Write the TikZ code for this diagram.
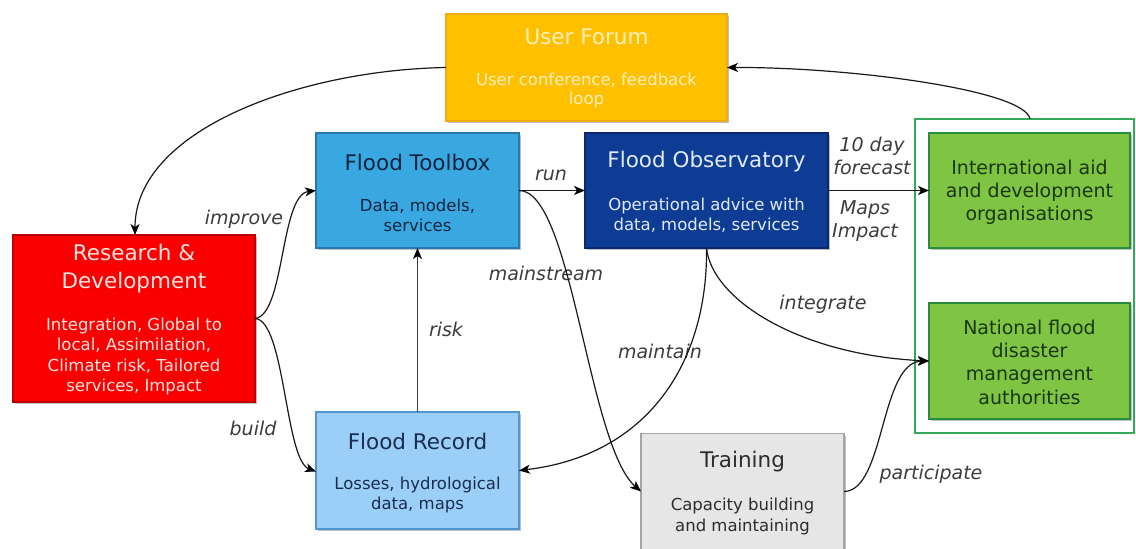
\documentclass[tikz,border=0pt]{standalone}
\usepackage{fontspec}
\setmainfont{DejaVu Sans}
\usetikzlibrary{arrows.meta,shadows}
\definecolor{forumC}{RGB}{255,192,0}
\definecolor{forumB}{RGB}{240,170,20}
\definecolor{forumT}{RGB}{255,240,190}
\definecolor{toolC}{RGB}{58,168,224}
\definecolor{toolB}{RGB}{40,120,180}
\definecolor{toolT}{RGB}{15,36,64}
\definecolor{obsC}{RGB}{14,60,148}
\definecolor{obsB}{RGB}{10,40,110}
\definecolor{obsT}{RGB}{225,235,255}
\definecolor{rdC}{RGB}{250,0,0}
\definecolor{rdB}{RGB}{190,0,0}
\definecolor{rdT}{RGB}{255,228,225}
\definecolor{recC}{RGB}{155,207,247}
\definecolor{recB}{RGB}{80,150,210}
\definecolor{recT}{RGB}{25,45,80}
\definecolor{trC}{RGB}{230,230,230}
\definecolor{trB}{RGB}{165,165,165}
\definecolor{trT}{RGB}{45,45,45}
\definecolor{grC}{RGB}{128,196,68}
\definecolor{grB}{RGB}{40,140,60}
\definecolor{grT}{RGB}{25,55,15}
\definecolor{frameC}{RGB}{50,170,90}
\definecolor{lineC}{RGB}{25,25,25}
\definecolor{labC}{RGB}{60,60,60}
\begin{document}
\begin{tikzpicture}[x=1pt,y=-1pt,
  box/.style={draw, line width=1.3pt, inner sep=0pt, outer sep=0pt,
    drop shadow={shadow xshift=2pt, shadow yshift=-2pt, opacity=0.25, fill=black}},
  ttl/.style={font=\fontsize{21.5}{27}\selectfont, align=center, inner sep=0pt},
  sub/.style={font=\fontsize{16.5}{20.3}\selectfont, align=center, inner sep=0pt},
  grn/.style={font=\fontsize{19}{23}\selectfont, align=center, inner sep=0pt, text=grT},
  lab/.style={font=\fontsize{19}{23}\selectfont\itshape, align=center, inner sep=0pt, text=labC},
  arr/.style={draw=lineC, line width=1.2pt, -{Stealth[length=11pt,width=9pt,inset=3pt,color=black]}}
]
\useasboundingbox (0,0) rectangle (1136,549);

% green frame
\node[draw=frameC, line width=1.6pt, minimum width=219pt, minimum height=314pt, inner sep=0pt, outer sep=0pt] (grp) at (1024.5,276) {};

% boxes
\node[box, fill=forumC, draw=forumB, minimum width=281pt, minimum height=107pt] (forum) at (586.5,67.5) {};
\node[ttl, text=forumT] (forumT) at (586.5,37) {User Forum};
\node[sub, text=forumT, font=\fontsize{16.5}{19}\selectfont] (forumS) at (586.5,90.5) {User conference, feedback\\loop};

\node[box, fill=toolC, draw=toolB, minimum width=203pt, minimum height=115pt] (tool) at (417.5,190.5) {};
\node[ttl, text=toolT] (toolT) at (417.5,162) {Flood Toolbox};
\node[sub, text=toolT] (toolS) at (417.5,215) {Data, models,\\services};

\node[box, fill=obsC, draw=obsB, minimum width=243pt, minimum height=115pt] (obs) at (706.5,190.5) {};
\node[ttl, text=obsT] (obsT) at (706.5,162) {Flood Observatory};
\node[sub, text=obsT] (obsS) at (706.5,215) {Operational advice with\\data, models, services};

\node[box, fill=rdC, draw=rdB, minimum width=242pt, minimum height=167pt] (rd) at (134,318.5) {};
\node[ttl, text=rdT, font=\fontsize{21.5}{28}\selectfont] (rdT) at (134,269) {Research \&\\Development};
\node[sub, text=rdT] (rdS) at (134,356.5) {Integration, Global to\\local, Assimilation,\\Climate risk, Tailored\\services, Impact};

\node[box, fill=recC, draw=recB, minimum width=203pt, minimum height=117pt] (rec) at (417.5,470.5) {};
\node[ttl, text=recT] (recT) at (417.5,441) {Flood Record};
\node[sub, text=recT] (recS) at (417.5,495) {Losses, hydrological\\data, maps};

\node[box, fill=trC, draw=trB, minimum width=203pt, minimum height=116pt] (tr) at (742.5,491.5) {};
\node[ttl, text=trT] (trT) at (742.5,462) {Training};
\node[sub, text=trT] (trS) at (742.5,516.5) {Capacity building\\and maintaining};

\node[box, fill=grC, draw=grB, minimum width=201pt, minimum height=115pt] (intl) at (1029.5,190.5) {};
\node[grn] (intlT) at (1029.5,192.5) {International aid\\and development\\organisations};

\node[box, fill=grC, draw=grB, minimum width=201pt, minimum height=116pt] (natl) at (1029.5,361) {};
\node[grn, font=\fontsize{19}{23.3}\selectfont] (natlT) at (1029.5,362) {National flood\\disaster\\management\\authorities};

% labels
\node[lab] (lImprove) at (244,219) {improve};
\node[lab] (lBuild) at (253,428) {build};
\node[lab] (lRisk) at (446,329) {risk};
\node[lab] (lRun) at (551,175) {run};
\node[lab] (lMain) at (546,273) {mainstream};
\node[lab] (lMaint) at (660,351) {maintain};
\node[lab] (lInt) at (823,304) {integrate};
\node[lab] (lPart) at (931,474) {participate};
\node[lab] (lFc) at (872,155.5) {10 day\\forecast};
\node[lab] (lMaps) at (865,221) {Maps\\Impact};

% connectors
\draw[arr] (forum.west) .. controls (300,70) and (135,130) .. ([xshift=1pt]rd.north);
\draw[arr] ([xshift=5.5pt]grp.north) .. controls (1025,90) and (850,67) .. (forum.east);
\draw[arr] (rd.east) .. controls (285,315) and (280,195) .. (tool.west);
\draw[arr] (rd.east) .. controls (285,320) and (285,460) .. ([yshift=-1pt]rec.west);
\draw[arr, draw=labC] (rec.north) -- (tool.south);
\draw[arr] (tool.east) -- (obs.west);
\draw[arr] (tool.east) .. controls (572,190) and (588,445) .. (tr.west);
\draw[arr] (obs.south) .. controls (708,360) and (650,455) .. (rec.east);
\draw[arr] (obs.south) .. controls (712,300) and (800,355) .. (natl.west);
\draw[arr] (tr.east) .. controls (885,491) and (880,362) .. (natl.west);
\draw[arr] (obs.east) -- (intl.west);
\end{tikzpicture}
\end{document}
